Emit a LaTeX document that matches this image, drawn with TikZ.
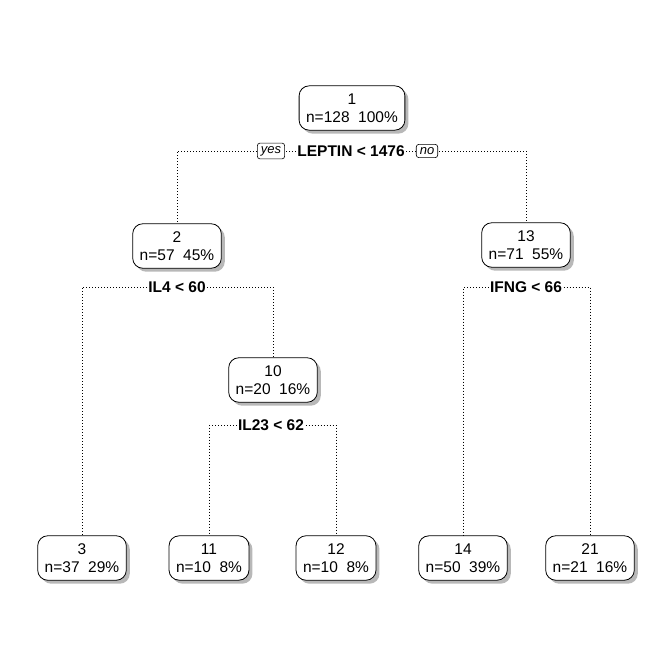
\documentclass[tikz,border=0pt]{standalone}
\usepackage{fontspec}
\setmainfont{Liberation Sans}
\usetikzlibrary{shadows}
\begin{document}
\begin{tikzpicture}[x=1pt,y=-1pt,
  treenode/.style={draw=black, line width=0.8pt, fill=white, rounded corners=10pt,
    align=center, inner xsep=7pt, inner ysep=7.5pt,
    font=\fontsize{15.5}{18.5}\selectfont,
    drop shadow={shadow xshift=3.5pt, shadow yshift=-3.5pt, fill=black!35, opacity=0.8}},
  splitlab/.style={fill=white, inner sep=1.5pt, font=\fontsize{15.5}{17}\selectfont\bfseries},
  yn/.style={draw=black, line width=0.6pt, fill=white, rounded corners=2.5pt,
    inner xsep=3.5pt, inner ysep=3pt, font=\fontsize{13}{14}\selectfont\itshape},
  conn/.style={black, line width=0.8pt, dash pattern=on 0.8pt off 2.2pt}]
\useasboundingbox (0,0) rectangle (672,671);
% nodes
\node[treenode] (n1)  at (352,108) {1\\n=128~~100\%};
\node[treenode] (n2)  at (177,246) {2\\n=57~~45\%};
\node[treenode] (n13) at (526,245) {13\\n=71~~55\%};
\node[treenode] (n10) at (273,380) {10\\n=20~~16\%};
\node[treenode] (n3)  at (82,558)  {3\\n=37~~29\%};
\node[treenode] (n11) at (209,558) {11\\n=10~~8\%};
\node[treenode] (n12) at (336,558) {12\\n=10~~8\%};
\node[treenode] (n14) at (463,558) {14\\n=50~~39\%};
\node[treenode] (n21) at (590,558) {21\\n=21~~16\%};
% split labels
\node[splitlab] (s1)  at (351,151) {LEPTIN < 1476};
\node[splitlab] (s2)  at (177,287) {IL4 < 60};
\node[splitlab] (s13) at (526,287) {IFNG < 66};
\node[splitlab] (s10) at (271,425) {IL23 < 62};
% connectors
\draw[conn] (s1.west) -| (n2.north);
\draw[conn] (s1.east) -| (n13.north);
\draw[conn] (s2.west) -| (n3.north);
\draw[conn] (s2.east) -| (n10.north);
\draw[conn] (s13.west) -| (n14.north);
\draw[conn] (s13.east) -| (n21.north);
\draw[conn] (s10.west) -| (n11.north);
\draw[conn] (s10.east) -| (n12.north);
% yes / no
\node[yn] (yes) at (271,151) {yes};
\node[yn] (no)  at (427,151) {no};
\end{tikzpicture}
\end{document}
